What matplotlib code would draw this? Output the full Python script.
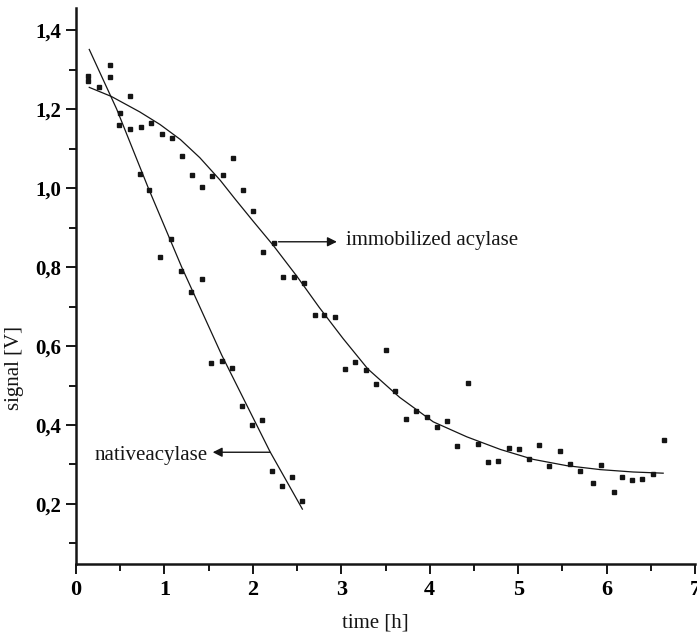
import matplotlib
matplotlib.use('Agg')
import matplotlib.pyplot as plt
import numpy as np

# measured points, native acylase
native_t = [0.14, 0.26, 0.385, 0.49, 0.72, 0.83, 0.95, 1.07, 1.19, 1.30, 1.42,
            1.527, 1.648, 1.76, 1.874, 1.995, 2.108, 2.22, 2.334, 2.447, 2.56]
native_s = [1.285, 1.255, 1.311, 1.16, 1.036, 0.995, 0.825, 0.872, 0.789, 0.736, 0.769,
            0.556, 0.563, 0.545, 0.448, 0.399, 0.412, 0.284, 0.246, 0.268, 0.208]

# measured points, immobilized acylase
immob_t = [0.14, 0.385, 0.50, 0.61, 0.61, 0.73, 0.845, 0.97, 1.08, 1.195, 1.31, 1.42,
           1.54, 1.66, 1.78, 1.89, 2.006, 2.12, 2.236, 2.345, 2.466, 2.58, 2.70, 2.81,
           2.93, 3.04, 3.16, 3.28, 3.39, 3.50, 3.61, 3.733, 3.846, 3.967, 4.08, 4.197,
           4.31, 4.434, 4.544, 4.657, 4.774, 4.894, 5.008, 5.128, 5.24, 5.354, 5.475,
           5.588, 5.705, 5.85, 5.94, 6.08, 6.173, 6.29, 6.406, 6.527, 6.644]
immob_s = [1.27, 1.281, 1.189, 1.233, 1.149, 1.154, 1.165, 1.138, 1.126, 1.081, 1.033, 1.003,
           1.031, 1.033, 1.075, 0.996, 0.941, 0.837, 0.862, 0.774, 0.774, 0.759, 0.678, 0.678,
           0.673, 0.543, 0.559, 0.539, 0.505, 0.591, 0.485, 0.414, 0.435, 0.419, 0.396, 0.411,
           0.346, 0.506, 0.353, 0.306, 0.308, 0.342, 0.338, 0.313, 0.349, 0.296, 0.335,
           0.301, 0.283, 0.252, 0.299, 0.231, 0.269, 0.261, 0.264, 0.275, 0.361]

# fitted curves
native_fit_t = [0.15, 0.46, 0.818, 1.195, 1.648, 2.195, 2.56]
native_fit_s = [1.351, 1.2, 1.0, 0.8, 0.577, 0.332, 0.187]

immob_fit_t = [0.15, 0.40, 0.72, 0.95, 1.18, 1.40, 1.63, 1.80, 2.00, 2.23, 2.50, 2.75,
               3.02, 3.30, 3.66, 4.04, 4.42, 4.80, 5.17, 5.55, 5.93, 6.30, 6.64]
immob_fit_s = [1.255, 1.232, 1.193, 1.161, 1.123, 1.077, 1.020, 0.972, 0.917, 0.855, 0.776, 0.698,
               0.619, 0.542, 0.470, 0.408, 0.370, 0.338, 0.313, 0.297, 0.287, 0.281, 0.278]

x_ticks = [0, 1, 2, 3, 4, 5, 6, 7]
y_ticks = [0.2, 0.4, 0.6, 0.8, 1.0, 1.2, 1.4]
y_tick_labels = ['0,2', '0,4', '0,6', '0,8', '1,0', '1,2', '1,4']

plt.rcParams['font.family'] = ['Liberation Serif', 'DejaVu Serif']

fig = plt.figure(figsize=(6.97, 6.38), dpi=100)
ax = fig.add_axes([76 / 697, 74 / 638, 619 / 697, 556 / 638])

ink = '#151515'

# fit lines
ax.plot(native_fit_t, native_fit_s, color=ink, linewidth=0.9)
ax.plot(immob_fit_t, immob_fit_s, color=ink, linewidth=0.9)

# data points
ax.plot(native_t, native_s, linestyle='none', marker='s', markersize=3.2, color=ink)
ax.plot(immob_t, immob_s, linestyle='none', marker='s', markersize=3.2, color=ink)

# labels with arrows
ax.annotate('', xy=(2.95, 0.864), xytext=(2.29, 0.864),
            arrowprops=dict(arrowstyle='-|>', color=ink, lw=1.0, mutation_scale=14,
                            shrinkA=0, shrinkB=0))
ax.text(3.05, 0.856, 'immobilized acylase', fontsize=15, color=ink, va='baseline', ha='left')

ax.annotate('', xy=(1.546, 0.331), xytext=(2.195, 0.331),
            arrowprops=dict(arrowstyle='-|>', color=ink, lw=1.0, mutation_scale=14,
                            shrinkA=0, shrinkB=0))
ax.text(1.49, 0.311, 'nativeacylase', fontsize=15, color=ink, va='baseline', ha='right')

ax.set_xlim(0, 7)
ax.set_ylim(0.048, 1.456)

ax.spines['top'].set_visible(False)
ax.spines['right'].set_visible(False)
ax.spines['left'].set_linewidth(1.8)
ax.spines['bottom'].set_linewidth(1.8)
ax.spines['left'].set_color(ink)
ax.spines['bottom'].set_color(ink)

ax.set_xticks(x_ticks)
ax.set_xticklabels([str(v) for v in x_ticks], fontsize=16, fontweight='bold')
ax.set_xticks(np.arange(0.5, 7, 1.0), minor=True)
ax.set_yticks(y_ticks)
ax.set_yticklabels(y_tick_labels, fontsize=15, fontweight='bold')
ax.set_yticks(np.arange(0.1, 1.45, 0.2), minor=True)

ax.tick_params(axis='both', which='major', direction='out', length=7.5, width=1.4, color=ink)
ax.tick_params(axis='both', which='minor', direction='out', length=5, width=1.4, color=ink)
ax.tick_params(axis='x', which='major', pad=4)
ax.tick_params(axis='y', which='major', pad=3)

fig.text(375 / 697, 1 - 623 / 638, 'time [h]', fontsize=15, ha='center', va='center', color=ink)
fig.text(15 / 697, 1 - 368 / 638, 'signal [V]', fontsize=15, ha='center', va='center',
         rotation=90, color=ink)

fig.savefig('out.png', dpi=100)
